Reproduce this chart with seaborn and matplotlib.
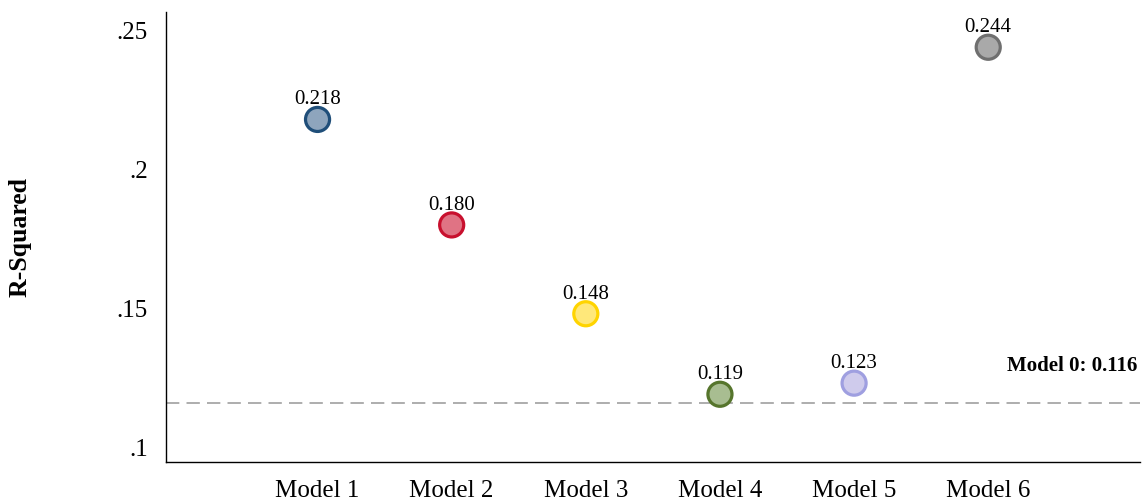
import numpy as np
import pandas as pd
import matplotlib
matplotlib.use("Agg")
import matplotlib.pyplot as plt
import seaborn as sns
from matplotlib.ticker import FuncFormatter

# 数据
models = ["Model 1", "Model 2", "Model 3", "Model 4", "Model 5", "Model 6"]
r_squared = [0.218, 0.180, 0.148, 0.119, 0.123, 0.244]
baseline = 0.116

edge_colors = ["#1f4e79", "#c8102e", "#ffd400", "#56752c", "#9f9fe0", "#6f6f6f"]
fill_colors = ["#8ea5bd", "#e07384", "#ffe87a", "#a8bd91", "#cfcbec", "#a9a9a9"]

sns.set_theme(style="white")
plt.rcParams["font.family"] = ["Liberation Serif", "DejaVu Serif"]
plt.rcParams["text.color"] = "black"
plt.rcParams["xtick.color"] = "black"
plt.rcParams["ytick.color"] = "black"
plt.rcParams["axes.labelcolor"] = "black"

df = pd.DataFrame({"model": models, "r2": r_squared})

fig = plt.figure(figsize=(11.43, 5), dpi=100)
ax = fig.add_axes([0.1452, 0.076, 0.852, 0.9])

sns.scatterplot(data=df, x="model", y="r2", hue="model", palette=fill_colors,
                edgecolor=edge_colors, linewidth=2.3, s=300, legend=False,
                ax=ax, zorder=3)

# Model 0 基线
ax.axhline(baseline, color="#a0a0a0", linestyle=(0, (8, 4.3)), linewidth=1.2, zorder=1)
ax.text(0.997, baseline + 0.0115, f"Model 0: {baseline:.3f}",
        transform=ax.get_yaxis_transform(),
        ha="right", va="baseline", fontsize=15, fontweight="bold")

for i, v in enumerate(r_squared):
    ax.annotate(f"{v:.3f}", (i, v), xytext=(0, 10.8), textcoords="offset points",
                ha="center", va="baseline", fontsize=15)

ax.set_xlim(-1.13, 6.13)
ax.set_ylim(0.0946, 0.2567)
ax.set_yticks([0.1, 0.15, 0.2, 0.25])
ax.yaxis.set_major_formatter(FuncFormatter(lambda v, p: f"{v:g}".lstrip("0")))
ax.tick_params(axis="both", length=0, labelsize=18)
ax.tick_params(axis="y", pad=13)
ax.tick_params(axis="x", pad=13)

ax.set_xlabel("")
ax.set_ylabel("R-Squared", fontsize=18.5, fontweight="bold")
ax.yaxis.set_label_coords(-0.1376, 0.5)

for side in ["top", "right"]:
    ax.spines[side].set_visible(False)
for side in ["left", "bottom"]:
    ax.spines[side].set_color("black")
    ax.spines[side].set_linewidth(1.0)

fig.savefig("out.png", dpi=100)
